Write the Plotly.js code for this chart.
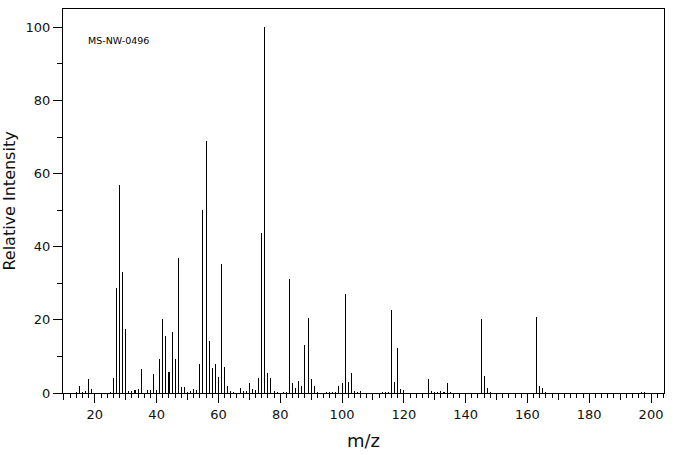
<!DOCTYPE html>
<html>
<head>
<meta charset="utf-8">
<script src="https://cdn.plot.ly/plotly-3.0.1.min.js"></script>
<style>html,body{margin:0;padding:0;background:#fff;}#chart{width:676px;height:455px;}</style>
</head>
<body>
<div id="chart"></div>
<script>
const mz = [14,15,16,17,18,19,25,26,27,28,29,30,31,32,33,34,35,37,38,39,40,41,42,43,44,45,46,47,48,49,50,51,52,53,54,55,56,57,58,59,60,61,62,63,64,65,67,68,69,70,71,72,73,74,75,76,77,78,79,81,82,83,84,85,86,87,88,89,90,91,92,95,96,97,98,99,100,101,102,103,104,105,106,113,114,115,116,117,118,119,120,128,129,130,131,132,133,134,135,145,146,147,148,163,164,165,166,197,198];
const intensity = [0.3,2.0,0.4,0.6,3.9,1.2,0.4,4.2,28.6,56.9,33.1,17.4,0.6,0.6,0.7,1.2,6.7,0.7,0.9,5.3,0.9,9.4,20.3,15.7,5.8,16.8,9.4,36.8,1.7,1.7,0.4,0.6,1.1,0.8,7.8,50.0,69.0,14.3,6.9,7.8,4.5,35.4,7.2,2.0,0.6,0.4,1.5,0.6,0.6,2.8,1.2,0.9,4.2,43.7,100,5.6,4.2,0.6,0.4,0.4,0.4,31.1,2.6,1.5,3.4,2.0,13.0,20.4,3.7,2.0,0.4,0.3,0.3,0.3,0.3,2.0,2.8,27.2,3.1,5.6,0.5,0.3,0.5,0.3,0.3,0.4,22.8,3.1,12.4,1.2,0.9,3.7,0.6,0.4,0.4,0.6,0.4,2.6,0.4,20.1,4.7,1.5,0.4,20.9,1.9,1.4,0.3,0.3,0.3];
const xMajorTicks = [20,40,60,80,100,120,140,160,180,200];
const xMidTicks = [10,30,50,70,90,110,130,150,170,190];
const yTicks = [0,20,40,60,80,100];
const label = "MS-NW-0496";

const font = "DejaVu Sans, sans-serif";
const xRange = [9.7, 204.2];
const traces = [
  {type:'bar', x: mz, y: intensity, width: 0.33,
   marker:{color:'#000', line:{width:0}}, hoverinfo:'skip', showlegend:false},
  {type:'scatter', x:[xMidTicks[0]], y:[0], xaxis:'x2', mode:'markers',
   marker:{opacity:0}, hoverinfo:'skip', showlegend:false}
];
const layout = {
  width:676, height:455,
  margin:{l:63, r:12, t:9, b:62},
  paper_bgcolor:'#fff', plot_bgcolor:'#fff',
  bargap:0,
  font:{family:font, color:'#000', size:13},
  xaxis:{range:xRange, tickvals:xMajorTicks, ticktext:xMajorTicks.map(String),
    ticks:'outside', ticklen:9, tickwidth:1, tickcolor:'#000',
    minor:{dtick:2, tick0:0, ticks:'outside', ticklen:4, tickwidth:1, tickcolor:'#000', showgrid:false},
    showline:true, linecolor:'#000', linewidth:1, mirror:true, showgrid:false, zeroline:false,
    tickfont:{family:font, size:13, color:'#111'},
    title:{text:'m/z', font:{family:font, size:18, color:'#111'}, standoff:13}},
  xaxis2:{overlaying:'x', side:'bottom', anchor:'y', range:xRange, tickvals:xMidTicks,
    showticklabels:false, ticks:'outside', ticklen:6, tickwidth:1, tickcolor:'#000',
    showline:false, showgrid:false, zeroline:false},
  yaxis:{range:[0,105], tickvals:yTicks, ticktext:yTicks.map(String),
    ticks:'outside', ticklen:9, tickwidth:1, tickcolor:'#000',
    minor:{dtick:10, tick0:0, ticks:'outside', ticklen:5, tickwidth:1, tickcolor:'#000', showgrid:false},
    showline:true, linecolor:'#000', linewidth:1, mirror:true, showgrid:false, zeroline:false,
    tickfont:{family:font, size:13, color:'#111'},
    title:{text:'Relative Intensity', font:{family:font, size:16, color:'#111'}, standoff:8}},
  annotations:[{text:label, xref:'paper', yref:'paper', x:0.038, y:0.917,
    xanchor:'left', yanchor:'middle', showarrow:false,
    font:{family:font, size:9.5, color:'#000'}}]
};
Plotly.newPlot('chart', traces, layout, {displayModeBar:false, staticPlot:true});
</script>
</body>
</html>
